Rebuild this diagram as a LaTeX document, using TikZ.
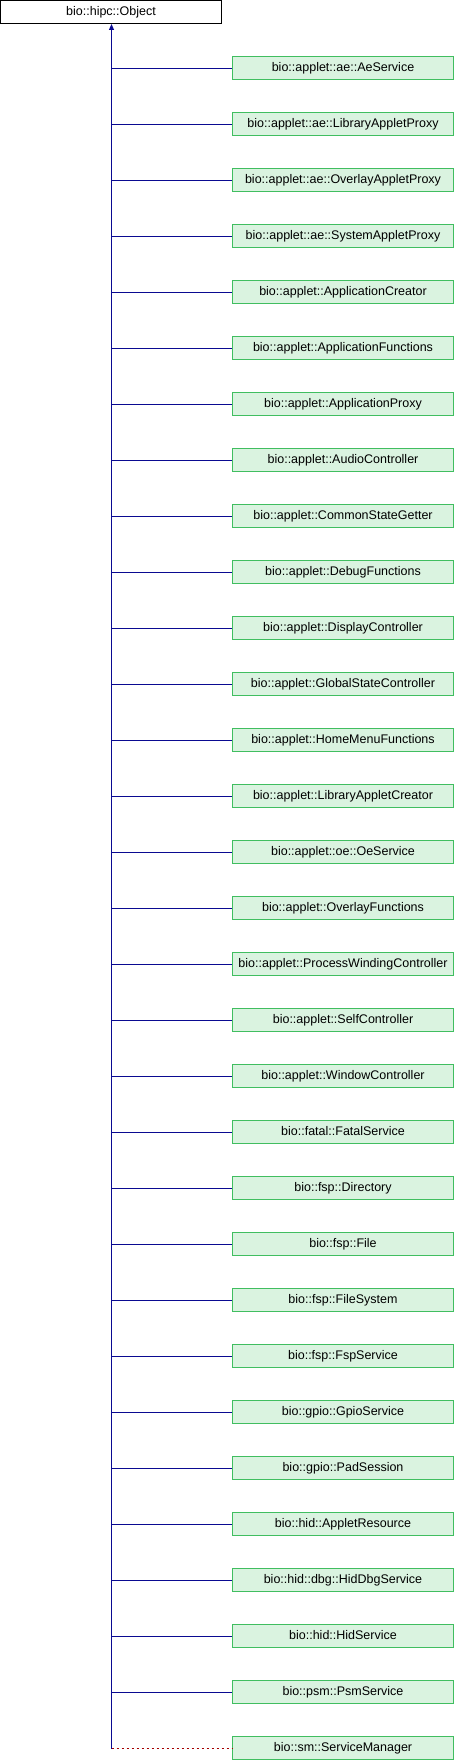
\documentclass[tikz,border=0pt]{standalone}
\usepackage{fontspec}
\setmainfont{Liberation Sans}
\usetikzlibrary{arrows.meta}
\definecolor{edgeblue}{RGB}{10,10,145}
\definecolor{edgered}{RGB}{165,0,0}
\definecolor{boxfill}{RGB}{218,243,224}
\definecolor{boxdraw}{RGB}{64,190,96}
\tikzset{
  base/.style={draw=black, fill=white, line width=1pt, minimum width=221pt, minimum height=23pt, inner sep=0pt, text height=9pt, text depth=2.4pt, font=\fontsize{12.5}{14}\selectfont},
  child/.style={base, draw=boxdraw, fill=boxfill},
  inh/.style={draw=edgeblue, line width=1pt},
  inhpriv/.style={draw=edgered, line width=1pt, dash pattern=on 2.7pt off 2.3pt},
}
\begin{document}
\begin{tikzpicture}[x=1pt,y=-1pt]
\useasboundingbox (0,0) rectangle (454,1760);
\node[base] (obj) at (111,12) {bio::hipc::Object};
\foreach \t [count=\i] in {
bio::applet::ae::AeService,
bio::applet::ae::LibraryAppletProxy,
bio::applet::ae::OverlayAppletProxy,
bio::applet::ae::SystemAppletProxy,
bio::applet::ApplicationCreator,
bio::applet::ApplicationFunctions,
bio::applet::ApplicationProxy,
bio::applet::AudioController,
bio::applet::CommonStateGetter,
bio::applet::DebugFunctions,
bio::applet::DisplayController,
bio::applet::GlobalStateController,
bio::applet::HomeMenuFunctions,
bio::applet::LibraryAppletCreator,
bio::applet::oe::OeService,
bio::applet::OverlayFunctions,
bio::applet::ProcessWindingController,
bio::applet::SelfController,
bio::applet::WindowController,
bio::fatal::FatalService,
bio::fsp::Directory,
bio::fsp::File,
bio::fsp::FileSystem,
bio::fsp::FspService,
bio::gpio::GpioService,
bio::gpio::PadSession,
bio::hid::AppletResource,
bio::hid::dbg::HidDbgService,
bio::hid::HidService,
bio::psm::PsmService,
bio::sm::ServiceManager}
{
  \node[child] (c\i) at (343,{68+56*(\i-1)}) {\t};
}
\coordinate (top) at ([xshift=0.5pt]obj.south);
\coordinate (trunk) at ([yshift=-0.5pt]top |- c31.west);
\draw[inh, -{Triangle[length=6pt,width=5pt]}] (trunk) -- (top);
\foreach \i in {1,...,30} {
  \draw[inh] ([yshift=-0.5pt]top |- c\i.west) -- ([yshift=-0.5pt]c\i.west);
}
\draw[inhpriv] (trunk) -- ([yshift=-0.5pt]c31.west);
\end{tikzpicture}
\end{document}
